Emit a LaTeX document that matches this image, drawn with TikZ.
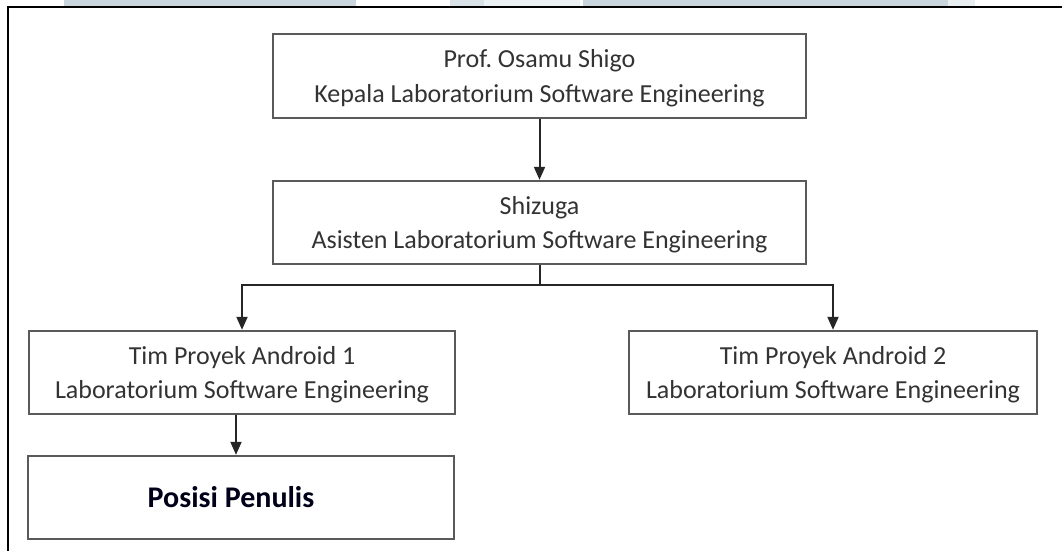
\documentclass[tikz,border=0pt]{standalone}
\usepackage{fontspec}
\setmainfont{Carlito}
\usetikzlibrary{arrows.meta}
\definecolor{boxline}{HTML}{5A5A5A}
\definecolor{txt}{HTML}{333333}
\definecolor{wm}{HTML}{C9D6DD}
\begin{document}
\frenchspacing
\begin{tikzpicture}[x=1pt,y=-1pt,
  orgbox/.style={draw=boxline,line width=2.4pt,fill=white,inner sep=0pt,align=center,
    text=txt,text depth=0pt,font=\fontsize{26}{34.5}\selectfont},
  conn/.style={draw=black!85,line width=2pt},
  arr/.style={conn,-{Triangle[length=13pt,width=11pt]}}]
\useasboundingbox (0,0) rectangle (1062,551);
\fill[white] (0,0) rectangle (1062,551);
% faint header blocks
\fill[wm] (64,0) rectangle (356,6);
\fill[wm!70] (450,0) rectangle (484,6);
\fill[wm!35] (484,0) rectangle (580,6);
\fill[wm] (583,0) rectangle (948,6);
\fill[wm!40] (948,0) rectangle (975,6);
% outer frame
\coordinate (fa) at (8,551);
\coordinate (fb) at (8,7);
\coordinate (fc) at (1062,7);
\draw[black,line width=2pt] (fa) -- (fb) -- (fc);
% boxes
\node[orgbox,minimum width=533,minimum height=84] (prof) at (539.5,76)
  {Prof. Osamu Shigo\\Kepala Laboratorium Software Engineering};
\node[orgbox,minimum width=533,minimum height=83] (asis) at (539.5,222.5)
  {Shizuga\\Asisten Laboratorium Software Engineering};
\node[orgbox,minimum width=426,minimum height=83] (tim1) at (242,372.5)
  {Tim Proyek Android 1\\Laboratorium Software Engineering};
\node[orgbox,minimum width=408,minimum height=83] (tim2) at (833,372.5)
  {Tim Proyek Android 2\\Laboratorium Software Engineering};
\node[orgbox,minimum width=426,minimum height=83,text=black!90!blue,text depth=,
  font=\fontsize{30}{34}\selectfont\bfseries] (pos) at (241,497.5)
  {\hspace*{-20pt}Posisi Penulis};
% connectors
\draw[arr] (prof.south) -- (asis.north);
\coordinate (split) at (539.5,285);
\draw[conn] (asis.south) -- (split);
\draw[arr] (split) -| (tim1.north);
\draw[arr] (split) -| (tim2.north);
\draw[arr] ([xshift=-6pt]tim1.south) -- ([xshift=-5pt]pos.north);
\end{tikzpicture}
\end{document}
